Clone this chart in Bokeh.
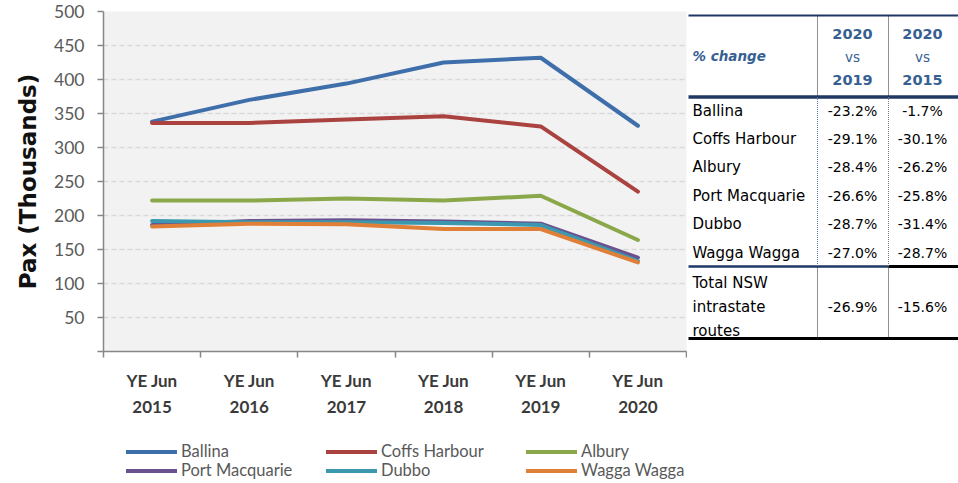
from bokeh.plotting import figure
from bokeh.models import (Range1d, LinearAxis, FixedTicker, Legend, LegendItem)
from bokeh.layouts import column, row
from bokeh.embed import file_html
from bokeh.resources import INLINE
from bokeh.core.properties import value

# ---------------- data ----------------
years = ["2015", "2016", "2017", "2018", "2019", "2020"]
categories = ["YE Jun\n" + y for y in years]

ballina = [338, 370, 394, 425, 432, 332]
coffs_harbour = [336, 336, 341, 346, 331, 235]
albury = [222, 222, 225, 222, 229, 164]
port_macquarie = [186, 192, 193, 191, 188, 138]
dubbo = [192, 190, 190, 189, 186, 133]
wagga_wagga = [184, 188, 187, 180, 180, 131]

series_names = ["Ballina", "Coffs Harbour", "Albury", "Port Macquarie", "Dubbo", "Wagga Wagga"]
series_values = [ballina, coffs_harbour, albury, port_macquarie, dubbo, wagga_wagga]
series_colors = ["#3F6FAA", "#AA423F", "#8AA84A", "#6A5290", "#3C98AF", "#E07F38"]

y_ticks = [0, 50, 100, 150, 200, 250, 300, 350, 400, 450, 500]

table_places = ["Ballina", "Coffs Harbour", "Albury", "Port Macquarie", "Dubbo", "Wagga Wagga"]
change_vs_2019 = [-23.2, -29.1, -28.4, -26.6, -28.7, -27.0]
change_vs_2015 = [-1.7, -30.1, -26.2, -25.8, -31.4, -28.7]
total_label = ["Total NSW", "intrastate", "routes"]
total_vs_2019 = -26.9
total_vs_2015 = -15.6
header_cols = [["2020", "vs", "2019"], ["2020", "vs", "2015"]]

# ---------------- chart ----------------
n = len(categories)
cat_pos = [i + 0.5 for i in range(n)]          # centre of each category slot

TOP_H = 436
p = figure(width=687, height=TOP_H, x_range=Range1d(0, n), y_range=Range1d(0, 500),
           x_axis_location=None, output_backend="svg", toolbar_location=None,
           min_border_left=103, min_border_right=1, min_border_top=11, min_border_bottom=85,
           background_fill_color="#F2F2F2", border_fill_color="white", outline_line_color=None)

xaxis = LinearAxis(
    ticker=FixedTicker(ticks=cat_pos, minor_ticks=list(range(n + 1))),
    major_label_overrides={pos: lab for pos, lab in zip(cat_pos, categories)},
    axis_line_color="#868686", axis_line_width=1.5,
    major_tick_line_color=None, major_tick_out=0, major_tick_in=0,
    minor_tick_line_color="#868686", minor_tick_line_width=1.5, minor_tick_out=6, minor_tick_in=0,
    major_label_text_font="Lato", major_label_text_font_style="bold",
    major_label_text_font_size="17px", major_label_text_color="#3A3A3A",
    major_label_text_line_height=1.28, major_label_standoff=12,
)
p.add_layout(xaxis, "below")

p.yaxis.ticker = FixedTicker(ticks=y_ticks)
p.yaxis.major_label_overrides = {0: ""}
p.yaxis.axis_line_color = "#868686"
p.yaxis.axis_line_width = 1.5
p.yaxis.major_tick_line_color = "#868686"
p.yaxis.major_tick_line_width = 1.5
p.yaxis.major_tick_out = 6
p.yaxis.major_tick_in = 0
p.yaxis.minor_tick_line_color = None
p.yaxis.major_label_text_font = "Lato"
p.yaxis.major_label_text_font_size = "17.5px"
p.yaxis.major_label_text_color = "#595959"
p.yaxis.major_label_standoff = 13
p.yaxis.axis_label = "Pax (Thousands)"
p.yaxis.axis_label_text_font = "DejaVu Sans"
p.yaxis.axis_label_text_font_style = "bold"
p.yaxis.axis_label_text_font_size = "23px"
p.yaxis.axis_label_text_color = "#111111"
p.yaxis.axis_label_standoff = 10

p.ygrid.grid_line_color = "#D9D9D9"
p.ygrid.grid_line_dash = "5 3"
p.ygrid.grid_line_width = 1.5
p.xgrid.visible = False

for name, vals, col in zip(series_names, series_values, series_colors):
    p.line(x=cat_pos, y=vals, line_color=col, line_width=4, line_cap="round", line_join="round")

# ---------------- table ----------------
t = figure(width=271, height=TOP_H, x_range=Range1d(687, 958), y_range=Range1d(351, 11),
           output_backend="svg", toolbar_location=None,
           min_border_left=0, min_border_right=0, min_border_top=11, min_border_bottom=85,
           outline_line_color=None, x_axis_location=None, y_axis_location=None,
           background_fill_color="white", border_fill_color="white")
t.xgrid.visible = False
t.ygrid.visible = False

blue = "#376092"
navy = "#1F3864"
col_x = [852, 922]
x_left, x_sep1, x_sep2, x_right = 688, 817, 888, 958
y_top, y_head, y_body_end, y_bottom = 15, 96.5, 266, 338

t.segment(x0=[x_left], y0=[y_top], x1=[x_right], y1=[y_top], line_color=navy, line_width=2)
t.segment(x0=[x_left], y0=[y_head], x1=[x_right], y1=[y_head], line_color=navy, line_width=3.5)
t.segment(x0=[x_left], y0=[y_body_end], x1=[x_sep2], y1=[y_body_end], line_color=navy, line_width=2.5)
t.segment(x0=[x_sep2], y0=[y_body_end], x1=[x_right], y1=[y_body_end], line_color="black", line_width=3)
t.segment(x0=[x_left], y0=[y_bottom], x1=[x_right], y1=[y_bottom], line_color="black", line_width=3)
t.segment(x0=[x_sep1, x_sep2], y0=[y_top, y_top], x1=[x_sep1, x_sep2], y1=[y_head, y_head],
          line_color="#222222", line_width=1, line_dash="1 1")
t.segment(x0=[x_sep1], y0=[y_head], x1=[x_sep1], y1=[y_body_end],
          line_color="#5A7DB0", line_width=1, line_dash="1 1")
t.segment(x0=[x_sep2], y0=[y_head], x1=[x_sep2], y1=[y_body_end],
          line_color="#777777", line_width=1, line_dash="1 1")
t.segment(x0=[x_sep1, x_sep2], y0=[y_body_end, y_body_end], x1=[x_sep1, x_sep2], y1=[y_bottom, y_bottom],
          line_color="#222222", line_width=1, line_dash="1 1")

t.text(x=[692], y=[55], text=["% change"], text_font=value("DejaVu Sans"),
       text_font_style="bold italic", text_font_size="13.5px", text_color=blue,
       text_align="left", text_baseline="middle")
hdr_y = [33, 56, 79]
for cx, lines in zip(col_x, header_cols):
    for j, (ly, s) in enumerate(zip(hdr_y, lines)):
        t.text(x=[cx], y=[ly], text=[s], text_font=value("DejaVu Sans"),
               text_font_style="normal" if j == 1 else "bold",
               text_font_size="13.5px" if j == 1 else "14.5px", text_color=blue,
               text_align="center", text_baseline="middle")

row_y = [110 + i * 28.4 for i in range(len(table_places))]
t.text(x=[692] * len(table_places), y=row_y, text=table_places, text_font=value("DejaVu Sans"),
       text_font_size="15px", text_color="black", text_align="left", text_baseline="middle")
t.text(x=[col_x[0]] * len(row_y), y=row_y, text=[f"{v:.1f}%" for v in change_vs_2019],
       text_font=value("DejaVu Sans"), text_font_size="14px", text_color="black",
       text_align="center", text_baseline="middle")
t.text(x=[col_x[1]] * len(row_y), y=row_y, text=[f"{v:.1f}%" for v in change_vs_2015],
       text_font=value("DejaVu Sans"), text_font_size="14px", text_color="black",
       text_align="center", text_baseline="middle")

tot_y = [282, 306, 330]
t.text(x=[692] * 3, y=tot_y, text=total_label, text_font=value("DejaVu Sans"),
       text_font_size="15px", text_color="black", text_align="left", text_baseline="middle")
t.text(x=col_x, y=[306, 306], text=[f"{total_vs_2019:.1f}%", f"{total_vs_2015:.1f}%"],
       text_font=value("DejaVu Sans"), text_font_size="14px", text_color="black",
       text_align="center", text_baseline="middle")

# ---------------- legend (own strip below chart + table) ----------------
LEG_H = 45
lg = figure(width=958, height=LEG_H, x_range=Range1d(0, n), y_range=Range1d(1000, 1100),
            output_backend="svg", toolbar_location=None, min_border=0,
            outline_line_color=None, x_axis_location=None, y_axis_location=None)
lg.xgrid.visible = False
lg.ygrid.visible = False
legend_items = []
for name, vals, col in zip(series_names, series_values, series_colors):
    # same series, drawn outside this strip's visible range: only the legend swatch shows
    r = lg.line(x=cat_pos, y=vals, line_color=col, line_width=4, line_cap="round")
    legend_items.append(LegendItem(label=name, renderers=[r]))

common = dict(orientation="horizontal", glyph_width=51, glyph_height=19, label_height=19,
              label_width=112, label_standoff=4, spacing=33, padding=0, margin=0,
              border_line_color=None, background_fill_alpha=0, label_text_font="Lato",
              label_text_font_size="16.5px", label_text_color="#595959")
leg1 = Legend(items=legend_items[:3], location=(126, 20), **common)
leg2 = Legend(items=legend_items[3:], location=(126, 1), **common)
lg.add_layout(leg1, "center")
lg.add_layout(leg2, "center")

layout = column(row(p, t), lg)
open("out.html", "w").write(file_html(layout, INLINE))
